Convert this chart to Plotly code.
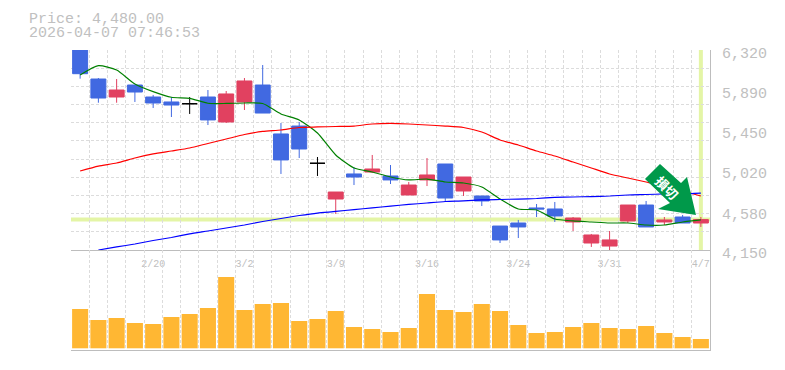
import plotly.graph_objects as go

dates = ["2/16","2/17","2/18","2/19","2/20","2/24","2/25","2/26","2/27","3/2","3/3","3/4","3/5","3/6","3/9","3/10","3/11","3/12","3/13","3/16","3/17","3/18","3/19","3/23","3/24","3/25","3/26","3/27","3/30","3/31","4/1","4/2","4/3","4/6","4/7"]
open_ = [6400,6005,5810,5940,5810,5756,5737,5810,5539,5756,5940,5409,5495,5091,4703,4975,4996,4953,4747,4910,5083,4790,4736,4410,4443,4606,4595,4454,4226,4193,4465,4638,4454,4508,4443]
high = [6420,6016,6005,5940,5832,5810,5810,5886,5875,6016,6157,5528,5539,5159,4779,5051,5181,5072,4888,5148,5083,4942,4736,4410,4476,4649,4671,4508,4324,4356,4638,4682,4508,4530,4508]
low = [6009,5748,5748,5756,5691,5593,5626,5506,5528,5669,5636,4975,5148,4953,4541,4855,4985,4866,4747,4844,4682,4736,4627,4226,4280,4508,4454,4356,4183,4145,4443,4400,4421,4443,4400]
close = [6063,5799,5886,5864,5745,5723,5737,5561,5843,5984,5636,5127,5246,5091,4779,4942,5029,4910,4855,4964,4714,4942,4682,4259,4400,4595,4519,4497,4313,4259,4638,4400,4476,4443,4480]
ma_short = [6049,6150,6103,5951,5868,5807,5796,5742,5740,5745,5740,5626,5561,5419,5181,5040,4996,4942,4910,4920,4888,4877,4834,4703,4595,4584,4486,4465,4454,4443,4443,4421,4421,4454,4476]
ma_mid = [5007,5061,5094,5148,5192,5224,5257,5306,5354,5403,5436,5452,5479,5485,5490,5495,5517,5523,5517,5506,5495,5479,5430,5344,5289,5224,5170,5105,5040,4975,4931,4888,4844,4790,4736]
ma_long = [None,4150,4183,4215,4253,4286,4324,4356,4389,4421,4459,4492,4524,4551,4568,4589,4606,4627,4644,4660,4676,4682,4693,4698,4703,4709,4720,4725,4730,4736,4747,4752,4758,4758,4768]
volume = [393,283,303,253,243,313,343,403,713,383,443,453,273,293,373,213,193,163,203,543,383,363,443,373,233,153,163,213,253,203,193,223,153,113,93]
price_ticks = [6320,5890,5450,5020,4580,4150]
last_price = 4480
title_lines = ["Price: 4,480.00","2026-04-07 07:46:53"]
badge_text = "損切"

W, H = 785, 370
L, R = 71, 710
GRAY = "#c0c0c0"
GRID = "#dcdcdc"
RED = "#E14160"
BLUE = "#4169E1"
xs = list(range(len(dates)))
doji = [i for i in xs if open_[i] == close[i]]
body = [i for i in xs if open_[i] != close[i]]

fig = go.Figure()
for vals, col in [(ma_short, "#008000"), (ma_mid, "#ff0000"), (ma_long, "#0000ff")]:
    fig.add_trace(go.Scatter(x=xs, y=vals, mode="lines", line=dict(color=col, width=1.2, shape="spline", smoothing=0.6), showlegend=False, xaxis="x", yaxis="y"))

def pick(a, idx):
    return [a[i] for i in idx]

fig.add_trace(go.Candlestick(x=body, open=pick(open_, body), high=pick(high, body), low=pick(low, body), close=pick(close, body),
    increasing=dict(line=dict(color=RED, width=1), fillcolor=RED),
    decreasing=dict(line=dict(color=BLUE, width=1), fillcolor=BLUE),
    whiskerwidth=0, showlegend=False, xaxis="x", yaxis="y"))
fig.add_trace(go.Candlestick(x=doji, open=pick(open_, doji), high=pick(high, doji), low=pick(low, doji), close=pick(close, doji),
    increasing=dict(line=dict(color="#000", width=1), fillcolor="#000"),
    decreasing=dict(line=dict(color="#000", width=1), fillcolor="#000"),
    whiskerwidth=0, showlegend=False, xaxis="x", yaxis="y"))
fig.add_trace(go.Bar(x=xs, y=volume, marker=dict(color="#FFB733", line=dict(width=0)), showlegend=False, xaxis="x2", yaxis="y2"))

half = [i - 0.5 for i in xs]
tick_idx = [i for i, d in enumerate(dates) if d in ("2/20","3/2","3/9","3/16","3/24","3/31","4/7")]
grid_x = dict(tickvals=half, showgrid=True, gridcolor=GRID, griddash="3px,2px", gridwidth=1, ticks="")

def px_x(p):
    return (p - L) / (R - L)
def px_y(p):
    return 1 - p / H

arrow = [(660,164),(645,179),(670,203),(658,209),(696,215),(687,177),(681,183)]
arrow_path = "M " + " L ".join(f"{px_x(a):.5f} {px_y(b):.5f}" for a, b in arrow) + " Z"

fig.update_layout(
    width=W, height=H, paper_bgcolor="white", plot_bgcolor="white",
    margin=dict(l=L, r=W - R, t=0, b=0, pad=0),
    boxmode="overlay", boxgap=0.18, boxgroupgap=0, bargap=0.12, showlegend=False,
    font=dict(family="Liberation Mono", color=GRAY, size=15),
    xaxis=dict(domain=[0, 1], range=[-0.5, 34.5], anchor="y", rangeslider=dict(visible=False), automargin=False,
        tickmode="array", tickvals=tick_idx, ticktext=[dates[i] for i in tick_idx], tickfont=dict(size=10, color=GRAY),
        ticklabelstandoff=4, showgrid=False, zeroline=False, showline=True, linecolor="#bdbdbd", linewidth=1, ticks="", minor=grid_x),
    yaxis=dict(domain=[1 - 250 / H, 1 - 50 / H], range=[4150, 6320], side="right", anchor="x", automargin=False,
        tickmode="array", tickvals=price_ticks, ticktext=[f"{v:,}" for v in price_ticks], tickfont=dict(size=15, color=GRAY),
        ticklabelstandoff=8, ticklabelshift=3, showgrid=False, zeroline=False, showline=True, linecolor="#bdbdbd", linewidth=1, ticks="",
        minor=dict(tick0=4150, dtick=2170 / 11, showgrid=True, gridcolor=GRID, griddash="3px,2px", gridwidth=1, ticks="")),
    xaxis2=dict(domain=[0, 1], range=[-0.5, 34.5], anchor="y2", matches="x", showticklabels=False, automargin=False,
        showgrid=False, zeroline=False, showline=True, linecolor="#bdbdbd", linewidth=1, ticks="", minor=grid_x),
    yaxis2=dict(domain=[1 - 350 / H, 1 - 250 / H], range=[-17, 983], side="right", anchor="x2", showticklabels=False, automargin=False,
        showgrid=False, zeroline=False, showline=True, linecolor="#bdbdbd", linewidth=1, ticks=""),
    shapes=[
        dict(type="line", xref="paper", x0=0, x1=1, yref="y", y0=last_price, y1=last_price, line=dict(color="#E4F5A6", width=4), layer="below"),
        dict(type="line", xref="x", x0=34, x1=34, yref="y", y0=4150, y1=6320, line=dict(color="#E4F5A6", width=4), layer="below"),
        dict(type="path", xref="paper", yref="paper", path=arrow_path, fillcolor="#00994A", line=dict(width=0), layer="above"),
    ],
    annotations=[
        dict(text=title_lines[0], xref="paper", yref="paper", x=px_x(27), y=px_y(19), xanchor="left", yanchor="middle", showarrow=False, font=dict(size=15, color=GRAY)),
        dict(text=title_lines[1], xref="paper", yref="paper", x=px_x(27), y=px_y(34), xanchor="left", yanchor="middle", showarrow=False, font=dict(size=15, color=GRAY)),
        dict(text=badge_text, xref="paper", yref="paper", x=px_x(667), y=px_y(187.5), xanchor="center", yanchor="middle", showarrow=False, textangle=45,
             font=dict(family="Noto Sans CJK JP", size=13, color="white", weight="bold")),
    ],
)

fig.write_html("out.html", config=dict(displayModeBar=False), post_script="document.body.style.margin='0';")
